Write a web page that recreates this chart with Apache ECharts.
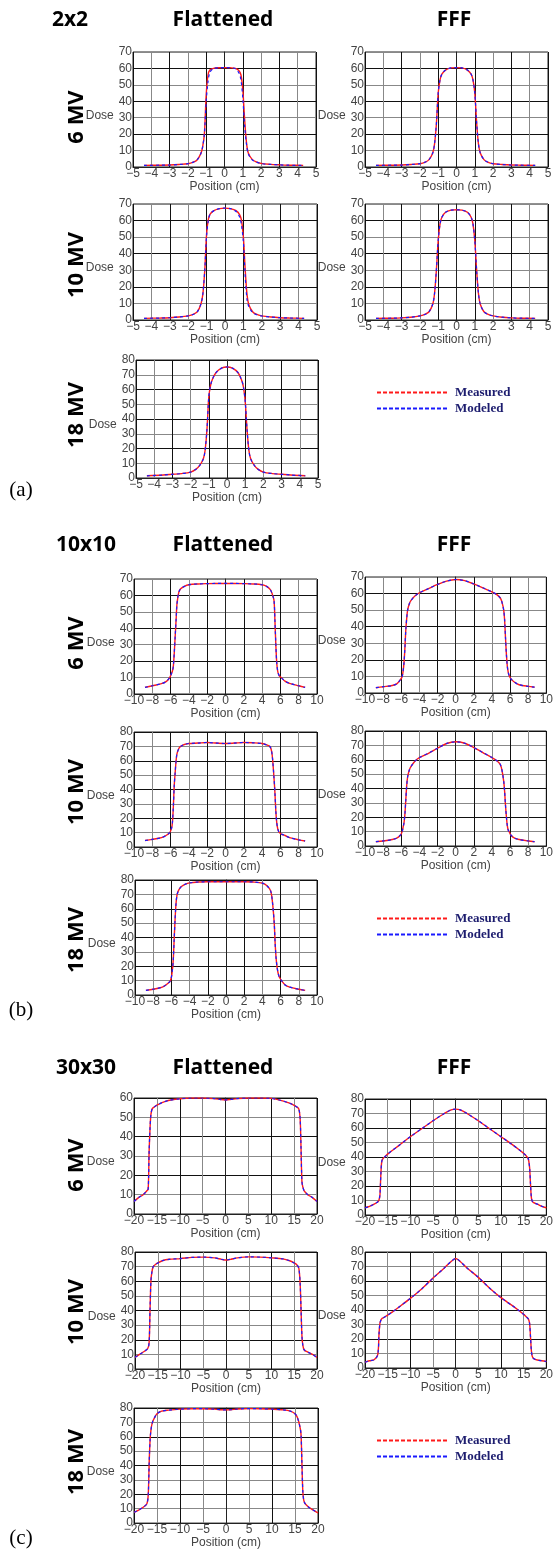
<!DOCTYPE html>
<html>
<head>
<meta charset="utf-8">
<script src="https://cdn.jsdelivr.net/npm/echarts@6/dist/echarts.min.js"></script>
<style>
html, body { margin: 0; padding: 0; background: #fff; }
#chart { width: 556px; height: 1550px; }
</style>
</head>
<body>
<div id="chart"></div>
<script>
// positions (cm) sampled along each profile, one list per field size
var pos2 = [-4.4, -3.5, -3, -2.5, -2, -1.7, -1.5, -1.3, -1.2, -1.1, -1.0, -0.9, -0.8, -0.6, -0.3, 0,
    0.3, 0.6, 0.8, 0.9, 1.0, 1.1, 1.2, 1.3, 1.5, 1.7, 2, 2.5, 3, 3.5, 4.3];
var pos10 = [-8.8, -8, -7, -6.5, -6.1, -5.9, -5.8, -5.7, -5.6, -5.5, -5.4, -5.3, -5.1, -4.9, -4.5, -4, -3, -2, -1, 0,
    1, 2, 3, 4, 4.5, 4.9, 5.1, 5.3, 5.4, 5.5, 5.6, 5.7, 5.8, 5.9, 6.1, 6.5, 7, 8, 8.7];
var pos30 = [-20, -19, -18, -17.2, -16.9, -16.7, -16.5, -16.3, -16, -15.5, -15, -14, -12.5, -10, -7.5, -5, -2.5, -1, 0,
    1, 2.5, 5, 7.5, 10, 12.5, 14, 15, 15.5, 16, 16.3, 16.5, 16.7, 16.9, 17.2, 18, 19, 20];

// 2x2
var meas2_6F = [1, 1.1, 1.2, 1.5, 2, 3, 4.3, 8, 12, 20, 44, 56, 59, 60, 60.4, 60.5,
    60.4, 60, 58.5, 56, 47, 29, 15, 8.5, 4.8, 3.3, 2.2, 1.6, 1.3, 1.1, 1];
var model2_6F = [1, 1.1, 1.2, 1.5, 2, 3, 4.3, 8, 12, 20, 40, 52, 57.5, 60, 60.4, 60.5,
    60.4, 59.8, 57, 53, 42, 25, 14, 8, 4.5, 3.2, 2.1, 1.6, 1.3, 1.1, 1];
var meas2_6U = [1, 1.1, 1.2, 1.5, 2, 3, 4.5, 8.5, 14, 26, 45, 53, 56.5, 59, 60.3, 60.5,
    60.3, 59, 56.5, 53, 45, 27, 14, 8.5, 4.5, 3, 2, 1.5, 1.2, 1.1, 1];
var model2_6U = meas2_6U;
var meas2_10F = [1, 1.2, 1.4, 1.8, 2.5, 3.5, 5, 10, 16, 30, 52, 61, 64, 66, 67.2, 67.5,
    67.2, 66, 63.5, 60, 50, 30, 15, 9, 5, 3.5, 2.5, 1.8, 1.4, 1.2, 1];
var model2_10F = [1, 1.2, 1.4, 1.8, 2.5, 3.5, 5, 10, 16, 30, 51, 60.5, 64, 66, 67.2, 67.5,
    67.2, 65.5, 62, 57, 47, 26, 12, 8, 4.5, 3.3, 2.4, 1.8, 1.4, 1.2, 1];
var meas2_10U = [1, 1.1, 1.3, 1.7, 2.5, 3.5, 5, 9.5, 16, 30, 48, 58, 62, 65, 66.3, 66.5,
    66.3, 65, 62, 58, 48, 30, 16, 9.5, 5, 3.5, 2.5, 1.7, 1.3, 1.1, 1];
var model2_10U = meas2_10U;
var meas2_18F = [1.5, 2, 2.5, 3, 4, 6, 8.5, 13, 19, 33, 55, 63, 67, 71.5, 74.5, 75.3,
    74.5, 71.5, 66.5, 62, 52, 33, 19, 13, 8.5, 6, 4, 3, 2.5, 2, 1.5];
var model2_18F = meas2_18F;

// 10x10
var meas10_6F = [4, 5, 6.3, 7.5, 10, 12.5, 14, 17, 25, 35, 45, 55, 62, 64, 65.5, 66.5, 67, 67.2, 67.3, 67.3,
    67.3, 67.2, 67, 66.5, 65.5, 63.5, 61, 57, 45, 30, 19, 14, 12, 11, 10, 7.8, 6.5, 5, 4];
var model10_6F = meas10_6F;
var meas10_6U = [3.2, 3.8, 4.5, 5.5, 8, 10, 13, 18, 27, 38, 45, 50, 54, 56, 58.5, 60.5, 63, 65.5, 67.5, 68.5,
    67.8, 65.8, 63.5, 61, 59.5, 57.5, 55, 50, 44, 33, 23, 16, 12.5, 10.5, 8.5, 6.5, 5, 4, 3.5];
var model10_6U = meas10_6U;
var meas10_10F = [4.5, 5.3, 6.5, 8, 10, 13, 17, 28, 43, 52, 60, 65, 68.5, 70, 71.3, 72, 72.3, 72.7, 72.3, 72,
    72.3, 72.7, 72.5, 72, 71, 69.5, 64, 48, 38, 25, 17, 13, 11, 10, 9, 8, 6.5, 5, 4.2];
var model10_10F = meas10_10F;
var meas10_10U = [3, 3.5, 4.5, 5.5, 7.5, 10, 13, 16, 22, 32, 42, 48, 53, 55.5, 59, 61.5, 64.5, 68, 71.3, 72.5,
    71.5, 68.5, 65, 61.5, 59.5, 57, 53, 45, 38, 28, 20, 14, 11, 10, 7.5, 5.5, 4.5, 3.5, 3];
var model10_10U = meas10_10U;
var meas10_18F = [3.2, 4, 5.5, 7.5, 10, 17, 24, 38, 52, 63, 69, 71.5, 74, 75.5, 77, 78, 78.6, 78.8, 78.8, 78.8,
    78.8, 78.8, 78.6, 77.8, 76, 72.5, 65, 50, 36, 26, 20, 16, 13.5, 12, 10, 7, 5.5, 4, 3.2];
var model10_18F = meas10_18F;

// 30x30
var meas30_6F = [6.5, 8.5, 10, 12, 13, 32, 44, 51.5, 54.5, 55.5, 56.3, 57.5, 58.7, 59.6, 60, 60, 59.7, 59.2, 59,
    59.2, 59.7, 60, 60, 59.8, 58.5, 57.3, 56.2, 55.5, 54.5, 50, 35, 17, 14, 12, 10, 8.5, 6.5];
var model30_6F = meas30_6F;
var meas30_6U = [5, 6, 7.5, 9, 10.5, 14, 28, 37, 39, 40.5, 42, 44.5, 48, 54, 59.5, 65, 70, 72.5, 73,
    72.5, 70, 65, 59.5, 54, 48.5, 45, 42.5, 41, 39, 33, 22, 12, 9.5, 8.5, 7.5, 6, 5];
var model30_6U = meas30_6U;
var meas30_10F = [8, 10, 12, 14, 18, 40, 60, 66, 70, 71.5, 72.5, 74, 75, 75.5, 76.3, 76.5, 76, 75, 74.5,
    75, 76, 76.7, 76.5, 76, 75.3, 74, 72.5, 71.5, 69, 58, 40, 22, 16, 13, 11.5, 10, 8];
var model30_10F = meas30_10F;
var meas30_10U = [4, 5, 5.7, 9, 24, 31, 33, 34, 34.5, 35.5, 36.5, 38.5, 42, 48, 54.5, 62, 69, 73.5, 75.5,
    73.5, 69, 62.5, 55, 48.5, 43, 39.5, 37, 35.5, 34, 31, 22, 12, 8, 6.5, 5.5, 5, 4.5];
var model30_10U = meas30_10U;
var meas30_18F = [7.5, 9, 11, 13.5, 20, 42, 58, 65, 70, 73.5, 76, 77.8, 78.5, 79.2, 79.5, 79.5, 79.2, 78.8, 78.7,
    78.8, 79.3, 79.6, 79.5, 79.2, 78.7, 77.8, 76, 73.5, 68, 62, 42, 22, 16, 13.5, 11, 9, 7];
var model30_18F = meas30_18F;

var legendNames = ['Measured', 'Modeled'];

// layout: [left, top, width, height] of each plot box
var panels = [
    {box: [133, 52, 183, 115], xs: pos2, m: meas2_6F, d: model2_6F, x: [-5, 5, 1], ymax: 70},
    {box: [365, 52, 183, 115], xs: pos2, m: meas2_6U, d: model2_6U, x: [-5, 5, 1], ymax: 70},
    {box: [133, 204, 184, 116], xs: pos2, m: meas2_10F, d: model2_10F, x: [-5, 5, 1], ymax: 70},
    {box: [365, 204, 183, 116], xs: pos2, m: meas2_10U, d: model2_10U, x: [-5, 5, 1], ymax: 70},
    {box: [136, 360, 182, 118], xs: pos2, m: meas2_18F, d: model2_18F, x: [-5, 5, 1], ymax: 80},
    {box: [134, 579, 183, 115], xs: pos10, m: meas10_6F, d: model10_6F, x: [-10, 10, 2], ymax: 70},
    {box: [365, 577, 183, 116], xs: pos10, m: meas10_6U, d: model10_6U, x: [-10, 10, 2], ymax: 70},
    {box: [134, 732, 183, 115], xs: pos10, m: meas10_10F, d: model10_10F, x: [-10, 10, 2], ymax: 80},
    {box: [365, 731, 183, 115], xs: pos10, m: meas10_10U, d: model10_10U, x: [-10, 10, 2], ymax: 80},
    {box: [135, 880, 182, 115], xs: pos10, m: meas10_18F, d: model10_18F, x: [-10, 10, 2], ymax: 80},
    {box: [134, 1098, 183, 116], xs: pos30, m: meas30_6F, d: model30_6F, x: [-20, 20, 5], ymax: 60},
    {box: [365, 1099, 183, 116], xs: pos30, m: meas30_6U, d: model30_6U, x: [-20, 20, 5], ymax: 80},
    {box: [135, 1252, 182, 117], xs: pos30, m: meas30_10F, d: model30_10F, x: [-20, 20, 5], ymax: 80},
    {box: [365, 1252, 183, 116], xs: pos30, m: meas30_10U, d: model30_10U, x: [-20, 20, 5], ymax: 80},
    {box: [134, 1408, 184, 116], xs: pos30, m: meas30_18F, d: model30_18F, x: [-20, 20, 5], ymax: 80}
];

var tickFont = {fontFamily: 'Liberation Sans', fontSize: 12, color: '#444'};
var boldFont = '"Open Sans", "Noto Sans", sans-serif';

function pairs(xs, ys) {
    return xs.map(function (x, i) { return [x, ys[i]]; });
}

var grid = [], xAxis = [], yAxis = [], series = [];
panels.forEach(function (p, i) {
    grid.push({
        left: p.box[0], top: p.box[1], width: p.box[2], height: p.box[3],
        show: true, borderColor: '#222', borderWidth: 1, containLabel: false
    });
    xAxis.push({
        gridIndex: i, type: 'value', min: p.x[0], max: p.x[1], interval: p.x[2],
        name: 'Position (cm)', nameLocation: 'middle', nameGap: 12, nameTextStyle: tickFont,
        axisLine: {show: true, lineStyle: {color: '#222'}},
        axisTick: {show: false},
        axisLabel: {
            margin: 1, showMinLabel: true, showMaxLabel: true,
            fontFamily: tickFont.fontFamily, fontSize: tickFont.fontSize, color: tickFont.color,
            formatter: function (v) { return String(v).replace('-', '\u2212'); }
        },
        splitLine: {show: true, lineStyle: {color: ['#111', '#888'], width: 1}}
    });
    yAxis.push({
        gridIndex: i, type: 'value', min: 0, max: p.ymax, interval: 10,
        name: 'Dose', nameLocation: 'middle', nameRotate: 0, nameGap: 14,
        nameTextStyle: {fontFamily: tickFont.fontFamily, fontSize: 12, color: '#444', verticalAlign: 'top'},
        axisLine: {show: true, lineStyle: {color: '#222'}},
        axisTick: {show: false},
        axisLabel: {margin: 1, showMinLabel: true, showMaxLabel: true,
            fontFamily: tickFont.fontFamily, fontSize: tickFont.fontSize, color: tickFont.color},
        splitLine: {show: true, lineStyle: {color: ['#111', '#888'], width: 1}}
    });
    series.push({
        name: 'Measured', type: 'line', xAxisIndex: i, yAxisIndex: i,
        data: pairs(p.xs, p.m), symbol: 'none', smooth: 0.3,
        lineStyle: {color: '#ff1a1a', width: 1.4}, itemStyle: {color: '#ff1a1a'}, z: 3
    });
    series.push({
        name: 'Modeled', type: 'line', xAxisIndex: i, yAxisIndex: i,
        data: pairs(p.xs, p.d), symbol: 'none', smooth: 0.3,
        lineStyle: {color: '#1a1aff', width: 1.2, type: [3, 3]}, itemStyle: {color: '#1a1aff'}, z: 4
    });
});

var legendTops = [386, 912, 1434];
var legend = legendTops.map(function (t) {
    return {
        data: legendNames, left: 376, top: t, orient: 'vertical', padding: 0,
        itemWidth: 71, itemHeight: 12, itemGap: 3, selectedMode: false,
        itemStyle: {opacity: 0},
        lineStyle: {type: [4, 2], width: 2},
        textStyle: {fontFamily: 'Liberation Serif', fontWeight: 'bold', fontSize: 13, color: '#1c1c6e', padding: [0, 0, 0, 2]}
    };
});

function label(text, x, y, size, rot, font, weight) {
    return {
        type: 'text', x: x, y: y, rotation: rot || 0, silent: true,
        style: {
            text: text, fontFamily: font || boldFont, fontWeight: weight || 'bold', fontSize: size,
            fill: '#000', align: 'center', verticalAlign: 'middle'
        }
    };
}

var sections = [
    {size: '2x2', y: 20, rows: [117, 265, 415], tag: '(a)', tagY: 490},
    {size: '10x10', y: 545, rows: [643, 792, 940], tag: '(b)', tagY: 1010},
    {size: '30x30', y: 1068, rows: [1165, 1312, 1462], tag: '(c)', tagY: 1538}
];
var energies = ['6 MV', '10 MV', '18 MV'];
var graphic = [];
sections.forEach(function (s) {
    graphic.push(label(s.size, s.size === '2x2' ? 70 : 86, s.y, 21));
    graphic.push(label('Flattened', 223, s.y, 21));
    graphic.push(label('FFF', 454, s.y, 21));
    s.rows.forEach(function (ry, k) {
        graphic.push(label(energies[k], 77, ry, 22, Math.PI / 2));
    });
    graphic.push(label(s.tag, 21, s.tagY, 21, 0, '"Liberation Serif", serif', 'normal'));
});

var myChart = echarts.init(document.getElementById('chart'));
var option = {
    backgroundColor: '#fff',
    animation: false,
    grid: grid,
    xAxis: xAxis,
    yAxis: yAxis,
    series: series,
    legend: legend,
    graphic: graphic
};
myChart.setOption(option);
</script>
</body>
</html>
